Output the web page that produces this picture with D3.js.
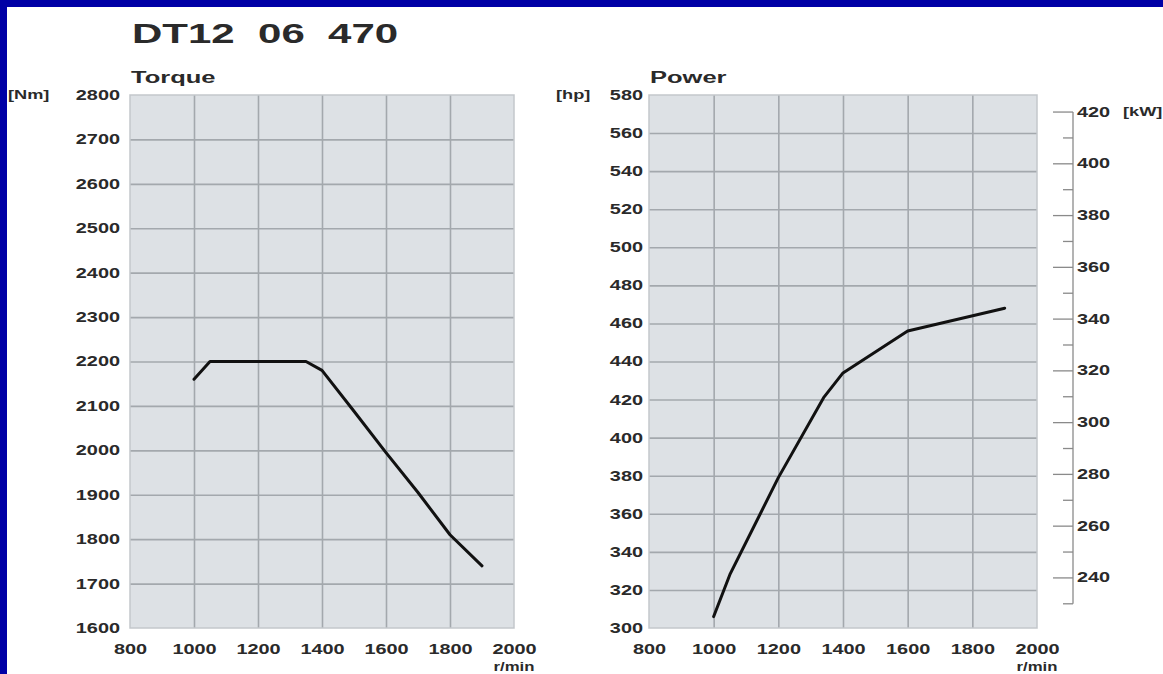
<!DOCTYPE html>
<html>
<head>
<meta charset="utf-8">
<style>
  body { margin: 0; background: #0000a6; }
  svg { display: block; }
  .lbl { font-family: "Liberation Sans", Arial, sans-serif; font-weight: bold; fill: #2a2a2a; }
  .plot-bg { fill: #dde1e5; }
  .grid line { stroke: #a3a8ad; stroke-width: 1.6px; }
  .grid path { display: none; }
  .frame { fill: none; stroke: #c3c7cb; stroke-width: 1.5px; }
  .curve { fill: none; stroke: #111; stroke-width: 3px; stroke-linejoin: round; stroke-linecap: round; }
  .kw line { stroke: #8a8a8a; stroke-width: 1.3px; }
</style>
</head>
<body>
<svg width="1163" height="674"></svg>

<script src="https://cdn.jsdelivr.net/npm/d3@7"></script>
<script>

// values
var torqueRpm = [1000, 1050, 1350, 1400, 1500, 1600, 1700, 1800, 1900];
var torqueNm  = [2160, 2200, 2200, 2180, 2088, 1995, 1905, 1810, 1740];

var powerRpm = [1000, 1050, 1200, 1340, 1400, 1500, 1600, 1900];
var powerHp  = [306, 328, 379, 421, 434, 445, 456, 468];

// tick labels
var rpmTicks = [800, 1000, 1200, 1400, 1600, 1800, 2000];
var nmTicks = [1600, 1700, 1800, 1900, 2000, 2100, 2200, 2300, 2400, 2500, 2600, 2700, 2800];
var hpTicks = [300, 320, 340, 360, 380, 400, 420, 440, 460, 480, 500, 520, 540, 560, 580];
var kwTicks = [240, 260, 280, 300, 320, 340, 360, 380, 400, 420];
var kwMinor = [230, 250, 270, 290, 310, 330, 350, 370, 390, 410];

var kwPerHp = 0.7355;   // metric hp

var svg = d3.select("svg");

// blue frame, white page
svg.append("rect").attr("width", 1163).attr("height", 674).style("fill", "#0000a6");
svg.append("rect").attr("x", 7).attr("y", 7).attr("width", 1200).attr("height", 700).style("fill", "#fff");

// stretch text horizontally (the source picture is squashed wide)
function stretch(sel, sx) {
  sel.each(function() {
    var t = d3.select(this);
    var x = +t.attr("x") || 0, y = +t.attr("y") || 0;
    t.attr("x", null).attr("y", null)
      .attr("transform", "translate(" + x + "," + y + ") scale(" + sx + ",1)");
  });
}

function label(txt, x, y, size, anchor, sx, dy) {
  var t = svg.append("text")
    .attr("class", "lbl")
    .attr("x", x).attr("y", y)
    .attr("dy", dy || 0)
    .style("font-size", size + "px")
    .style("white-space", "pre")
    .attr("text-anchor", anchor)
    .text(txt);
  stretch(t, sx);
  return t;
}

label("DT12  06  470", 132, 43, 28, "start", 1.5);

// one chart panel
function panel(opts) {
  var x = d3.scaleLinear().domain([800, 2000]).range([opts.left, opts.right]);
  var y = d3.scaleLinear().domain(opts.yDomain).range([628, 95]);
  var w = opts.right - opts.left, h = 628 - 95;

  var g = svg.append("g");

  g.append("rect").attr("class", "plot-bg")
    .attr("x", opts.left).attr("y", 95).attr("width", w).attr("height", h);

  g.append("g").attr("class", "grid")
    .attr("transform", "translate(0,628)")
    .call(d3.axisBottom(x).tickValues(rpmTicks.slice(1, -1)).tickSize(-h).tickFormat(""));

  g.append("g").attr("class", "grid")
    .attr("transform", "translate(" + opts.left + ",0)")
    .call(d3.axisLeft(y).tickValues(opts.yTicks.slice(1, -1)).tickSize(-w).tickFormat(""));

  g.append("rect").attr("class", "frame")
    .attr("x", opts.left).attr("y", 95).attr("width", w).attr("height", h);

  // tick labels
  var xa = g.append("g").attr("transform", "translate(0,628)")
    .call(d3.axisBottom(x).tickValues(rpmTicks).tickSize(0).tickPadding(16).tickFormat(d3.format("d")));
  var ya = g.append("g").attr("transform", "translate(" + opts.left + ",0)")
    .call(d3.axisLeft(y).tickValues(opts.yTicks).tickSize(0).tickPadding(opts.pad).tickFormat(d3.format("d")));
  [xa, ya].forEach(function(a) {
    a.select(".domain").remove();
    a.selectAll("text").attr("class", "lbl").attr("fill", null)
      .style("font-size", "14px").style("font-family", null);
    a.attr("font-family", null).attr("font-size", null);
    stretch(a.selectAll("text"), 1.42);
  });

  label(opts.title, opts.left + 1, 83, 17, "start", 1.5);
  label(opts.unit, opts.unitX, 95, 13, "start", 1.4, "0.32em");
  label("r/min", opts.right, 671, 12, "middle", 1.4);

  var line = d3.line()
    .x(function(d) { return x(d[0]); })
    .y(function(d) { return y(d[1]); });

  g.append("path").attr("class", "curve")
    .datum(d3.zip(opts.xs, opts.ys))
    .attr("d", line);

  return { x: x, y: y };
}

panel({
  left: 130, right: 514, yDomain: [1600, 2800], yTicks: nmTicks, pad: 10,
  title: "Torque", unit: "[Nm]", unitX: 8,
  xs: torqueRpm, ys: torqueNm
});

var pw = panel({
  left: 649, right: 1037, yDomain: [300, 580], yTicks: hpTicks, pad: 6,
  title: "Power", unit: "[hp]", unitX: 556,
  xs: powerRpm, ys: powerHp
});

// kW axis on the right of the power chart
var kwY = function(kw) { return pw.y(kw / kwPerHp); };
var axX = 1073;
var kw = svg.append("g").attr("class", "kw");

kw.append("line")
  .attr("x1", axX).attr("x2", axX)
  .attr("y1", kwY(d3.max(kwTicks))).attr("y2", kwY(d3.min(kwMinor)));

kw.selectAll(".major").data(kwTicks).enter().append("line")
  .attr("x1", axX - 20).attr("x2", axX)
  .attr("y1", kwY).attr("y2", kwY);

kw.selectAll(".minor").data(kwMinor).enter().append("line")
  .attr("x1", axX - 10).attr("x2", axX)
  .attr("y1", kwY).attr("y2", kwY);

kwTicks.forEach(function(v) {
  label(String(v), axX + 4, kwY(v), 14, "start", 1.42, "0.32em");
});
label("[kW]", 1123, kwY(d3.max(kwTicks)), 13, "start", 1.4, "0.32em");

</script>
</body>
</html>
